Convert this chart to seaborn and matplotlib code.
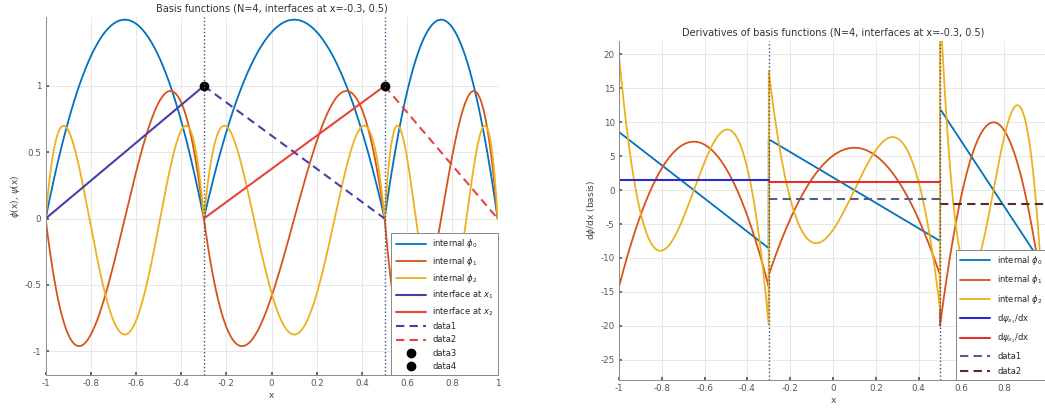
import numpy as np
import pandas as pd
import matplotlib
matplotlib.use("Agg")
import matplotlib.pyplot as plt
import seaborn as sns
from numpy.polynomial import legendre as L

# ---- data ----
nodes = [-1.0, -0.3, 0.5, 1.0]          # element boundaries
interfaces = [-0.3, 0.5]                # interface positions
modes = [0, 1, 2]                       # internal bubble modes phi_k = L_k - L_{k+2}
interface_peak = [1.0, 1.0]             # hat function peak values
xticks_left = [-1, -0.8, -0.6, -0.4, -0.2, 0, 0.2, 0.4, 0.6, 0.8, 1]
xticks_right = [-1, -0.8, -0.6, -0.4, -0.2, 0, 0.2, 0.4, 0.6, 0.8]
yticks_left = [-1, -0.5, 0, 0.5, 1]
yticks_right = [-25, -20, -15, -10, -5, 0, 5, 10, 15, 20]
internal_labels = [r'internal $\phi_0$', r'internal $\phi_1$', r'internal $\phi_2$']
interface_labels = [r'interface at $x_1$', r'interface at $x_2$']
deriv_labels = [r'd$\psi_{x_1}$/dx', r'd$\psi_{x_2}$/dx']

c_int = ['#0072BD', '#D95319', '#EDB120']
c_if_left = ['#4a3fa8', '#e8443a']
c_if_right = ['#2a2ad0', '#e03030']
c_dash_right = ['#50608a', '#5a2a2a']

sns.set_theme(style='whitegrid')
plt.rcParams['font.family'] = ['DejaVu Sans']
plt.rcParams['mathtext.fontset'] = 'dejavusans'

x = np.linspace(-1, 1, 4001)

def local(xg):
    idx = np.clip(np.searchsorted(nodes, xg, side='right') - 1, 0, len(nodes) - 2)
    a = np.array(nodes)[idx]; b = np.array(nodes)[idx + 1]
    xi = 2 * (xg - a) / (b - a) - 1
    return xi, (b - a)

def bubble(k, xg, deriv=False):
    c = np.zeros(k + 3); c[k] = 1; c[k + 2] = -1
    xi, h = local(xg)
    if deriv:
        return L.legval(xi, L.legder(c)) * 2 / h
    return L.legval(xi, c)

def fmt(v):
    return ('%g' % v)

fig = plt.figure(figsize=(10.45, 4.11), dpi=100)
ax1 = fig.add_axes([0.0437, 0.0876, 0.4325, 0.871])
ax2 = fig.add_axes([0.5923, 0.0754, 0.4096, 0.825])

for ax in (ax1, ax2):
    ax.set_facecolor('white')
    ax.grid(True, color='#e3e3e3', lw=0.6)
    for s in ['top', 'right']:
        ax.spines[s].set_visible(False)
    for s in ['left', 'bottom']:
        ax.spines[s].set_color('#8a8a8a'); ax.spines[s].set_linewidth(0.7)
    ax.tick_params(direction='in', length=2.5, labelsize=6.3, colors='#555555',
                   left=True, bottom=True, pad=3)

# ---- left: basis functions ----
for k, col, lab in zip(modes, c_int, internal_labels):
    sns.lineplot(x=x, y=bubble(k, x), ax=ax1, color=col, lw=1.3, label=lab,
                 sort=False, estimator=None)
for i, (xi_, col, lab) in enumerate(zip(interfaces, c_if_left, interface_labels)):
    left_node = nodes[i]
    sns.lineplot(x=[left_node, xi_], y=[0, interface_peak[i]], ax=ax1, color=col,
                 lw=1.5, label=lab, sort=False, estimator=None)
for i, (xi_, col) in enumerate(zip(interfaces, c_if_left)):
    right_node = nodes[i + 2]
    sns.lineplot(x=[xi_, right_node], y=[interface_peak[i], 0], ax=ax1, color=col,
                 lw=1.5, ls=(0, (4, 2.5)), label=f'data{i+1}', sort=False, estimator=None)
for i, xi_ in enumerate(interfaces):
    ax1.plot([xi_], [interface_peak[i]], 'o', color='black', ms=6, label=f'data{i+3}')
    ax1.axvline(xi_, color='#3d4a80', ls=':', lw=1.0)

ax1.set_xlim(-1, 1)
ax1.set_ylim(-1.18, 1.52)
ax1.set_xticks(xticks_left)
ax1.set_xticklabels([fmt(v) for v in xticks_left])
ax1.set_yticks(yticks_left)
ax1.set_yticklabels([fmt(v) for v in yticks_left])
ax1.set_title('Basis functions (N=4, interfaces at x=-0.3, 0.5)', fontsize=7, pad=4, color='#333333')
ax1.set_xlabel('x', fontsize=6.5, labelpad=2, color='#444444')
ax1.set_ylabel(r'$\phi$(x), $\psi$(x)', fontsize=6.5, labelpad=2, color='#444444')
leg1 = ax1.legend(loc='lower right', fontsize=6, frameon=True, framealpha=1,
                  borderaxespad=0, handlelength=3.6, labelspacing=0.5, fancybox=False,
                  borderpad=0.5)
leg1.get_frame().set_edgecolor('#888888'); leg1.get_frame().set_linewidth(0.7)

# ---- right: derivatives ----
for k, col, lab in zip(modes, c_int, internal_labels):
    sns.lineplot(x=x, y=bubble(k, x, deriv=True), ax=ax2, color=col, lw=1.3, label=lab,
                 sort=False, estimator=None)
for i, (xi_, col, lab) in enumerate(zip(interfaces, c_if_right, deriv_labels)):
    left_node = nodes[i]
    slope = interface_peak[i] / (xi_ - left_node)
    sns.lineplot(x=[left_node, xi_], y=[slope, slope], ax=ax2, color=col, lw=1.5,
                 label=lab, sort=False, estimator=None)
for i, (xi_, col) in enumerate(zip(interfaces, c_dash_right)):
    right_node = nodes[i + 2]
    slope = -interface_peak[i] / (right_node - xi_)
    sns.lineplot(x=[xi_, right_node], y=[slope, slope], ax=ax2, color=col, lw=1.5,
                 ls=(0, (4, 2.5)), label=f'data{i+1}', sort=False, estimator=None)
for xi_ in interfaces:
    ax2.axvline(xi_, color='#3d4a80', ls=':', lw=1.0)

ax2.set_xlim(-1, 1)
ax2.set_ylim(-28, 22)
ax2.set_xticks(xticks_right)
ax2.set_xticklabels([fmt(v) for v in xticks_right])
ax2.set_yticks(yticks_right)
ax2.set_yticklabels([fmt(v) for v in yticks_right])
ax2.set_title('Derivatives of basis functions (N=4, interfaces at x=-0.3, 0.5)', fontsize=7,
              pad=4, color='#333333')
ax2.set_xlabel('x', fontsize=6.5, labelpad=2, color='#444444')
ax2.set_ylabel(r'd$\phi$/dx (basis)', fontsize=6.5, labelpad=2, color='#444444')
leg2 = ax2.legend(loc='lower right', fontsize=6, frameon=True, framealpha=1,
                  borderaxespad=0, handlelength=3.6, labelspacing=0.75, fancybox=False,
                  borderpad=0.5)
leg2.get_frame().set_edgecolor('#888888'); leg2.get_frame().set_linewidth(0.7)

fig.savefig('out.png', dpi=100)
